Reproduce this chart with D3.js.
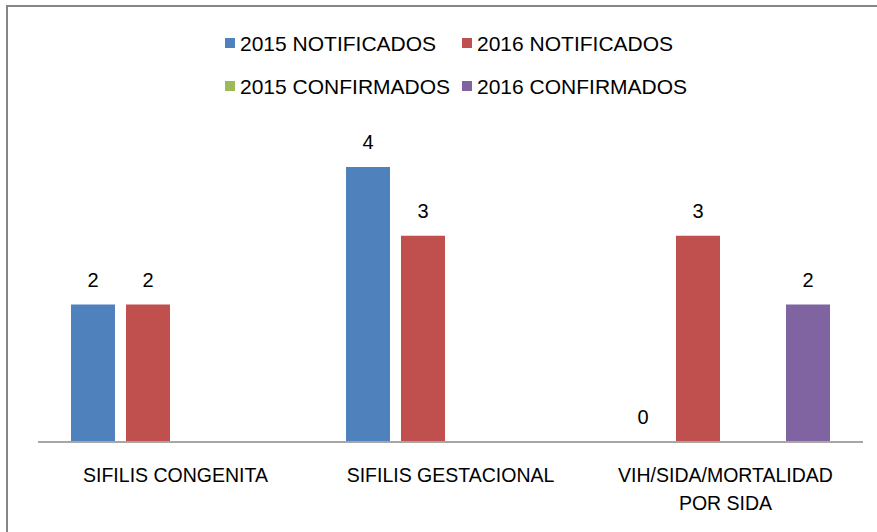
<!DOCTYPE html>
<html>
<head>
<meta charset="utf-8">
<script src="https://cdn.jsdelivr.net/npm/d3@7"></script>
<style>
  body { margin: 0; background: #fff; }
  svg { display: block; font-family: "Liberation Sans", Arial, sans-serif; }
</style>
</head>
<body>
<svg id="chart" width="877" height="532"></svg>
<script>
// data
var categories = ["SIFILIS CONGENITA", "SIFILIS GESTACIONAL", "VIH/SIDA/MORTALIDAD POR SIDA"];
var seriesNames = ["2015 NOTIFICADOS", "2016 NOTIFICADOS", "2015 CONFIRMADOS", "2016 CONFIRMADOS"];
var notif2015 = [2, 4, 0];
var notif2016 = [2, 3, 3];
var conf2015 = [null, null, null];
var conf2016 = [null, null, 2];
var colors = ["#4f81bd", "#c0504d", "#9bbb59", "#8064a2"];

var allSeries = [notif2015, notif2016, conf2015, conf2016];

var width = 877, height = 532;
var svg = d3.select("#chart");

// outer frame (Excel chart area border, cut by the window on right/bottom)
svg.append("rect")
    .attr("x", 7).attr("y", 6)
    .attr("width", 900).attr("height", 560)
    .style("fill", "none")
    .style("stroke", "#868686")
    .style("stroke-width", 2);

var plotLeft = 38, plotRight = 863, baseY = 442;

var x0 = d3.scaleBand()
    .domain(categories)
    .range([plotLeft, plotRight])
    .padding(0);

var x1 = d3.scaleBand()
    .domain(seriesNames)
    .range([0, x0.bandwidth()])
    .paddingInner(0.2)
    .paddingOuter(0.6);

var y = d3.scaleLinear()
    .domain([0, 4])
    .range([baseY, 167]);

var rows = [];
categories.forEach(function (c, ci) {
    seriesNames.forEach(function (s, si) {
        rows.push({cat: c, series: s, si: si, value: allSeries[si][ci]});
    });
});
var shown = rows.filter(function (d) { return d.value !== null; });

// bars
svg.append("g").attr("id", "bars")
    .selectAll("rect")
    .data(shown)
    .enter().append("rect")
    .attr("x", function (d) { return x0(d.cat) + x1(d.series); })
    .attr("y", function (d) { return y(d.value); })
    .attr("width", x1.bandwidth())
    .attr("height", function (d) { return baseY - y(d.value); })
    .style("fill", function (d) { return colors[d.si]; });

// axis line
svg.append("line")
    .attr("x1", plotLeft).attr("x2", plotRight)
    .attr("y1", baseY).attr("y2", baseY)
    .style("stroke", "#a6a6a6")
    .style("stroke-width", 2);

// value labels
svg.append("g").attr("id", "labels")
    .selectAll("text")
    .data(shown)
    .enter().append("text")
    .attr("x", function (d) { return x0(d.cat) + x1(d.series) + x1.bandwidth() / 2; })
    .attr("y", function (d) { return y(d.value) - 18; })
    .attr("text-anchor", "middle")
    .style("font-size", "20px")
    .style("fill", "#000")
    .text(function (d) { return d.value; });

// category labels (wrapped like Excel)
var catG = svg.append("g").attr("id", "xAxis");
categories.forEach(function (c) {
    var lines = c.length > 20 ? ["VIH/SIDA/MORTALIDAD", "POR SIDA"] : [c];
    var t = catG.append("text")
        .attr("text-anchor", "middle")
        .style("font-size", "19.5px")
        .style("fill", "#000");
    lines.forEach(function (l, i) {
        t.append("tspan")
            .attr("x", x0(c) + x0.bandwidth() / 2)
            .attr("y", 482 + i * 28)
            .text(l);
    });
});

// legend, two rows of two
var legend = svg.append("g").attr("id", "legend");
var colX = [225, 462], rowY = [43, 86];
seriesNames.forEach(function (s, i) {
    var g = legend.append("g")
        .attr("transform", "translate(" + colX[i % 2] + "," + rowY[Math.floor(i / 2)] + ")");
    g.append("rect")
        .attr("x", 0).attr("y", -5)
        .attr("width", 10).attr("height", 10)
        .style("fill", colors[i]);
    g.append("text")
        .attr("x", 15).attr("y", 7.5)
        .style("font-size", "21px")
        .style("fill", "#000")
        .text(s);
});
</script>
</body>
</html>
